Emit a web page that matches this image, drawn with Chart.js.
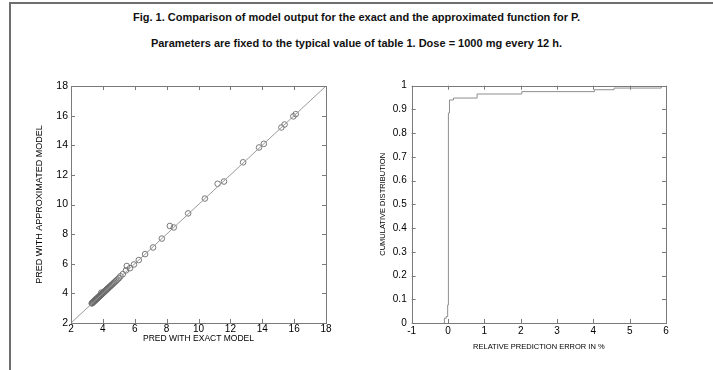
<!DOCTYPE html>
<html>
<head>
<meta charset="utf-8">
<script src="https://cdn.jsdelivr.net/npm/chart.js@4.4.1/dist/chart.umd.min.js"></script>
<style>
  body { margin: 0; background: #fff; width: 713px; height: 370px; overflow: hidden; position: relative; font-family: "Liberation Sans", Arial, sans-serif; }
  #frame { position: absolute; left: 9px; top: 2px; width: 710px; height: 380px; border-top: 2px solid #6e6e6e; border-left: 2px solid #6e6e6e; }
  .ttl { position: absolute; left: 0; width: 713px; text-align: center; font-weight: bold; font-size: 11px; color: #111; white-space: nowrap; line-height: 1; }
  #c1 { position: absolute; left: 0; top: 0; }
  #c2 { position: absolute; left: 360px; top: 0; }
</style>
</head>
<body>
<div id="frame"></div>
<div class="ttl" style="top:11.5px">Fig. 1. Comparison of model output for the exact and the approximated function for P.</div>
<div class="ttl" style="top:37.5px">Parameters are fixed to the typical value of table 1. Dose = 1000 mg every 12 h.</div>
<canvas id="c1" width="360" height="370"></canvas>
<canvas id="c2" width="353" height="370"></canvas>
<script>
// left panel: predictions, exact vs approximated
var exactPred = [16.1, 15.95, 15.4, 15.2, 14.1, 13.8, 12.8, 11.6, 11.2, 10.4, 9.35, 8.45, 8.2, 7.7, 7.15, 6.65, 6.25, 5.95, 5.7, 5.5, 5.45, 5.25, 5.1, 3.9,
  3.30, 3.32, 3.35, 3.37, 3.40, 3.42, 3.45, 3.48, 3.50, 3.53, 3.55, 3.58, 3.60, 3.63, 3.66, 3.68, 3.71, 3.74, 3.77, 3.80,
  3.83, 3.86, 3.89, 3.92, 3.95, 3.98, 4.01, 4.05, 4.08, 4.12, 4.16, 4.20, 4.24, 4.28, 4.32, 4.37, 4.42, 4.47, 4.52, 4.58,
  4.64, 4.70, 4.77, 4.84, 4.92, 5.00];
var approxPred = [16.1, 15.95, 15.4, 15.2, 14.1, 13.85, 12.85, 11.55, 11.4, 10.4, 9.4, 8.45, 8.55, 7.7, 7.1, 6.65, 6.25, 5.95, 5.7, 5.85, 5.55, 5.3, 5.15, 4.05,
  3.32, 3.34, 3.37, 3.39, 3.42, 3.44, 3.47, 3.50, 3.52, 3.55, 3.57, 3.60, 3.62, 3.65, 3.68, 3.70, 3.73, 3.76, 3.79, 3.82,
  3.85, 3.88, 3.91, 3.94, 3.97, 4.00, 4.03, 4.07, 4.10, 4.14, 4.18, 4.22, 4.26, 4.30, 4.34, 4.39, 4.44, 4.49, 4.54, 4.60,
  4.66, 4.72, 4.79, 4.86, 4.94, 5.02];
var identityLine = [2, 18];
var predTicks = [2, 4, 6, 8, 10, 12, 14, 16, 18];

// right panel: cumulative distribution of relative error (%)
var relError = [-0.12, -0.10, -0.05, -0.01, 0.01, 0.04, 0.15, 0.80, 2.03, 4.03, 4.57, 5.87];
var cumDist = [0, 0.02, 0.027, 0.076, 0.885, 0.94, 0.948, 0.965, 0.975, 0.983, 0.99, 1.0];
var errTicks = [-1, 0, 1, 2, 3, 4, 5, 6];
var cdfTicks = [0, 0.1, 0.2, 0.3, 0.4, 0.5, 0.6, 0.7, 0.8, 0.9, 1];

var FONT = "'Liberation Sans', Arial, sans-serif";

// matlab style box with inward ticks on all four sides
var boxPlugin = {
  id: 'box',
  afterDatasetsDraw: function (chart) {
    var ctx = chart.ctx, a = chart.chartArea;
    var sx = chart.scales.x, sy = chart.scales.y;
    ctx.save();
    ctx.strokeStyle = '#7a7a7a';
    ctx.lineWidth = 1;
    ctx.strokeRect(Math.round(a.left) + 0.5, Math.round(a.top) + 0.5, Math.round(a.right - a.left), Math.round(a.bottom - a.top));
    ctx.beginPath();
    sx.ticks.forEach(function (t) {
      var px = Math.round(sx.getPixelForValue(t.value)) + 0.5;
      ctx.moveTo(px, a.bottom); ctx.lineTo(px, a.bottom - 4);
      ctx.moveTo(px, a.top); ctx.lineTo(px, a.top + 4);
    });
    sy.ticks.forEach(function (t) {
      var py = Math.round(sy.getPixelForValue(t.value)) + 0.5;
      ctx.moveTo(a.left, py); ctx.lineTo(a.left + 4, py);
      ctx.moveTo(a.right, py); ctx.lineTo(a.right - 4, py);
    });
    ctx.stroke();
    ctx.restore();
  }
};

function axis(min, max, list, title, tickSize, pad, titleSize, fit) {
  return {
    type: 'linear', min: min, max: max,
    grid: { display: false, drawTicks: false },
    border: { display: false },
    afterBuildTicks: function (s) { s.ticks = list.map(function (v) { return { value: v }; }); },
    afterFit: fit,
    ticks: { color: '#000', font: { family: FONT, size: tickSize, lineHeight: 1 }, padding: pad, maxRotation: 0, autoSkip: false,
      callback: function (v) { return String(Math.round(v * 10) / 10); } },
    title: { display: true, text: title, color: '#000', padding: 0, font: { family: FONT, size: titleSize, lineHeight: 1 } }
  };
}

var pts = exactPred.map(function (x, i) { return { x: x, y: approxPred[i] }; });

new Chart(document.getElementById('c1'), {
  type: 'scatter',
  data: {
    datasets: [{
      type: 'line',
      data: identityLine.map(function (v) { return { x: v, y: v }; }),
      borderColor: '#9a9a9a', borderWidth: 1, pointRadius: 0, fill: false
    }, {
      data: pts,
      pointStyle: 'circle', pointRadius: 2.8, pointBackgroundColor: 'rgba(0,0,0,0)',
      pointBorderColor: '#6a6a6a', pointBorderWidth: 0.9
    }]
  },
  options: {
    responsive: false, animation: false,
    layout: { padding: { left: 35.5, right: 34, top: 86, bottom: 27.5 } },
    plugins: { legend: { display: false }, tooltip: { enabled: false } },
    scales: {
      x: axis(2, 18, predTicks, 'PRED WITH EXACT MODEL', 10, 1.5, 8.5, function (s) { s.height = 19.5; }),
      y: axis(2, 18, predTicks, 'PRED WITH APPROXIMATED MODEL', 10.5, 3, 9, function (s) { s.width = 35.5; })
    }
  },
  plugins: [boxPlugin]
});

new Chart(document.getElementById('c2'), {
  type: 'line',
  data: {
    datasets: [{
      data: relError.map(function (x, i) { return { x: x, y: cumDist[i] }; }),
      stepped: true,
      borderColor: '#8e8e8e', borderWidth: 1, pointRadius: 0, fill: false
    }]
  },
  options: {
    responsive: false, animation: false,
    layout: { padding: { left: 19.25, right: 47, top: 85.7, bottom: 19.25 } },
    plugins: { legend: { display: false }, tooltip: { enabled: false } },
    scales: {
      x: axis(-1, 6, errTicks, 'RELATIVE PREDICTION ERROR IN %', 10, 3.5, 7.5, function (s) { s.height = 27.75; }),
      y: axis(0, 1, cdfTicks, 'CUMULATIVE DISTRIBUTION', 10, 5, 7.5, function (s) { s.width = 32.45; })
    }
  },
  plugins: [boxPlugin]
});
</script>
</body>
</html>
